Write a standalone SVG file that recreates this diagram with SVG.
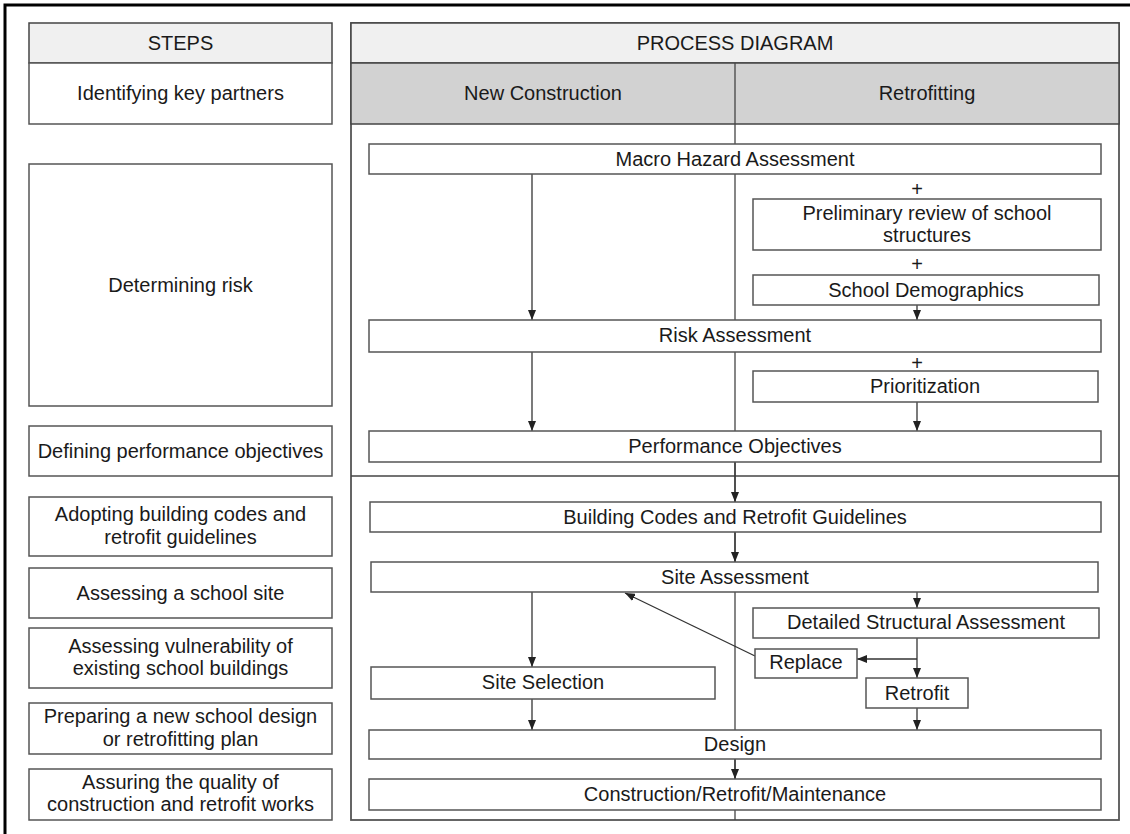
<svg xmlns="http://www.w3.org/2000/svg" width="1130" height="834" viewBox="0 0 1130 834">
<defs>
<style>
text{font-family:"Liberation Sans",Arial,sans-serif;font-size:20px;fill:#1a1a1a;text-anchor:middle}
.box{fill:#fff;stroke:#555;stroke-width:1.5}
.hdr{fill:#f0f0f0;stroke:#444;stroke-width:1.5}
.sub{fill:#d2d2d2;stroke:#444;stroke-width:1.5}
.ln{stroke:#444;stroke-width:1.3;fill:none}
.arr{stroke:#333;stroke-width:1.3;fill:none;marker-end:url(#ah)}
</style>
<marker id="ah" viewBox="0 0 10 8" refX="10" refY="4" markerWidth="10" markerHeight="8" markerUnits="userSpaceOnUse" orient="auto">
<path d="M0,0 L10,4 L0,8 z" fill="#222"/>
</marker>
</defs>
<rect width="1130" height="834" fill="#fff"/>
<path d="M5,834 V5 H1130" fill="none" stroke="#000" stroke-width="3"/>

<!-- Left column: steps -->
<g id="steps-header"><rect class="hdr" x="29" y="23" width="303" height="40"/><text x="180.5" y="50">STEPS</text></g>
<g id="step-partners"><rect class="box" x="29" y="63" width="303" height="61"/><text x="180.5" y="100">Identifying key partners</text></g>
<g id="step-risk"><rect class="box" x="29" y="164" width="303" height="242"/><text x="180.5" y="292">Determining risk</text></g>
<g id="step-objectives"><rect class="box" x="29" y="426" width="303" height="50"/><text x="180.5" y="458">Defining performance objectives</text></g>
<g id="step-codes"><rect class="box" x="29" y="497" width="303" height="59"/><text x="180.5" y="521">Adopting building codes and</text><text x="180.5" y="544">retrofit guidelines</text></g>
<g id="step-site"><rect class="box" x="29" y="568" width="303" height="50"/><text x="180.5" y="600">Assessing a school site</text></g>
<g id="step-vuln"><rect class="box" x="29" y="628" width="303" height="60"/><text x="180.5" y="653">Assessing vulnerability of</text><text x="180.5" y="675">existing school buildings</text></g>
<g id="step-design"><rect class="box" x="29" y="703" width="303" height="51"/><text x="180.5" y="723">Preparing a new school design</text><text x="180.5" y="746">or retrofitting plan</text></g>
<g id="step-quality"><rect class="box" x="29" y="769" width="303" height="51"/><text x="180.5" y="789">Assuring the quality of</text><text x="180.5" y="811">construction and retrofit works</text></g>

<!-- Process diagram frame -->
<g id="process-frame">
<rect x="351" y="23" width="768" height="797" fill="#fff" stroke="#555" stroke-width="1.8"/>
<rect class="hdr" x="351" y="23" width="768" height="40"/>
<text x="735" y="50">PROCESS DIAGRAM</text>
<rect class="sub" x="351" y="63" width="768" height="61"/>
<text x="543" y="100">New Construction</text>
<text x="927" y="100">Retrofitting</text>
<line class="ln" x1="735" y1="63" x2="735" y2="820"/>
<line class="ln" x1="351" y1="476" x2="1119" y2="476"/>
</g>

<!-- Connectors -->
<g id="connectors">
<line class="arr" x1="532" y1="174" x2="532" y2="320"/>
<line class="arr" x1="917" y1="305" x2="917" y2="320"/>
<line class="arr" x1="532" y1="352" x2="532" y2="431"/>
<line class="arr" x1="917" y1="402" x2="917" y2="431"/>
<line class="arr" x1="735" y1="462" x2="735" y2="502"/>
<line class="arr" x1="735" y1="532" x2="735" y2="562"/>
<line class="arr" x1="917" y1="592" x2="917" y2="608"/>
<line class="arr" x1="532" y1="592" x2="532" y2="667"/>
<line class="arr" x1="755" y1="656" x2="625" y2="593"/>
<line class="arr" x1="917" y1="638" x2="917" y2="678"/>
<line class="arr" x1="917" y1="659" x2="857" y2="659"/>
<line class="arr" x1="532" y1="699" x2="532" y2="730"/>
<line class="arr" x1="917" y1="708" x2="917" y2="730"/>
<line class="arr" x1="735" y1="759" x2="735" y2="779"/>
</g>

<!-- Process nodes -->
<g id="macro-hazard"><rect class="box" x="369" y="144" width="732" height="30"/><text x="735" y="166">Macro Hazard Assessment</text></g>
<g id="plus-1"><text x="917" y="196">+</text></g>
<g id="preliminary-review"><rect class="box" x="753" y="199" width="348" height="51"/><text x="927" y="220">Preliminary review of school</text><text x="927" y="242">structures</text></g>
<g id="plus-2"><text x="917" y="271">+</text></g>
<g id="school-demographics"><rect class="box" x="753" y="275" width="346" height="30"/><text x="926" y="297">School Demographics</text></g>
<g id="risk-assessment"><rect class="box" x="369" y="320" width="732" height="32"/><text x="735" y="342">Risk Assessment</text></g>
<g id="plus-3"><text x="917" y="370">+</text></g>
<g id="prioritization"><rect class="box" x="753" y="371" width="345" height="31"/><text x="925" y="393">Prioritization</text></g>
<g id="performance-objectives"><rect class="box" x="369" y="431" width="732" height="31"/><text x="735" y="453">Performance Objectives</text></g>
<g id="building-codes"><rect class="box" x="370" y="502" width="731" height="30"/><text x="735" y="524">Building Codes and Retrofit Guidelines</text></g>
<g id="site-assessment"><rect class="box" x="371" y="562" width="727" height="30"/><text x="735" y="584">Site Assessment</text></g>
<g id="detailed-structural"><rect class="box" x="753" y="608" width="346" height="30"/><text x="926" y="629">Detailed Structural Assessment</text></g>
<g id="replace"><rect class="box" x="755" y="649" width="102" height="29"/><text x="806" y="669">Replace</text></g>
<g id="retrofit"><rect class="box" x="866" y="678" width="102" height="30"/><text x="917" y="700">Retrofit</text></g>
<g id="site-selection"><rect class="box" x="371" y="667" width="344" height="32"/><text x="543" y="689">Site Selection</text></g>
<g id="design"><rect class="box" x="369" y="730" width="732" height="29"/><text x="735" y="751">Design</text></g>
<g id="construction"><rect class="box" x="369" y="779" width="732" height="31"/><text x="735" y="801">Construction/Retrofit/Maintenance</text></g>
</svg>
